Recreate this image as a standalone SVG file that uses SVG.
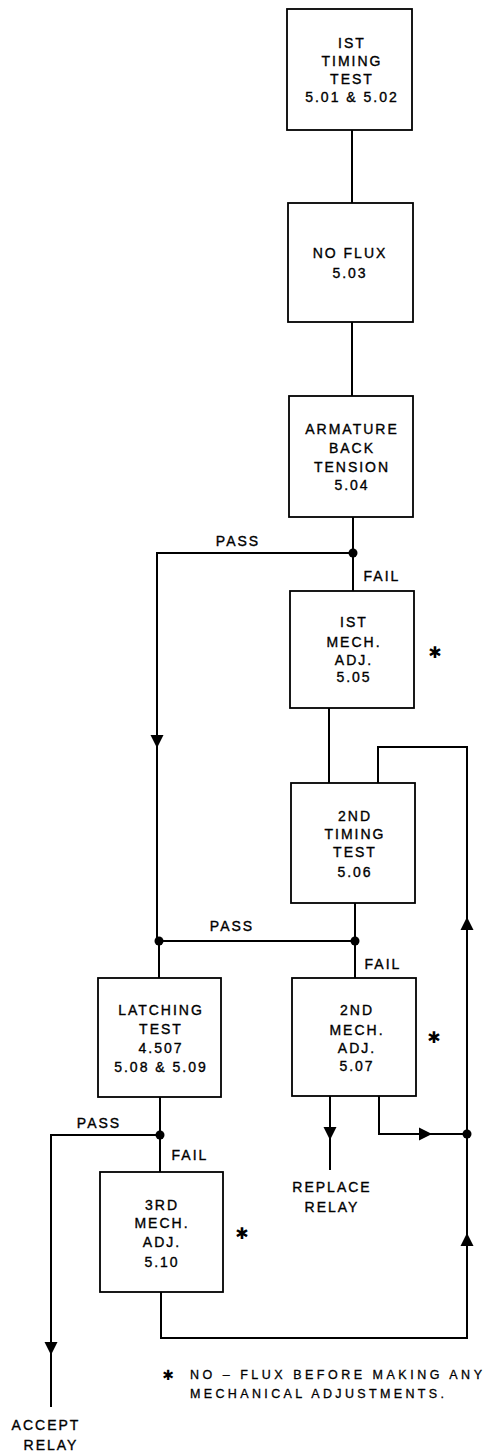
<svg xmlns="http://www.w3.org/2000/svg" xmlns:xlink="http://www.w3.org/1999/xlink" width="487" height="1451" viewBox="0 0 487 1451">
<style>
.box{fill:#fff;stroke:#000;stroke-width:1.8}
.ln{fill:none;stroke:#000;stroke-width:2}
.t{font-family:"Liberation Sans",Arial,sans-serif;font-size:14px;letter-spacing:2px;fill:#000;stroke:#000;stroke-width:0.35;text-anchor:middle}
.f{font-family:"Liberation Sans",Arial,sans-serif;font-size:12.5px;fill:#000;stroke:#000;stroke-width:0.3}
.ast{font-family:"DejaVu Sans",sans-serif;font-size:16px;fill:#000;text-anchor:middle}
.dot{fill:#000}
</style>
<defs>
<path id="ah" d="M-6.5,-13 L6.5,-13 L0,0 Z" fill="#000"/>
</defs>
<rect width="487" height="1451" fill="#fff"/>
<g id="connectors">
<path class="ln" d="M352,130 V203"/>
<path class="ln" d="M352,322 V396"/>
<path class="ln" d="M353,517 V591"/>
<path class="ln" d="M353,553 H157 V941"/>
<use xlink:href="#ah" transform="translate(157,748)"/>
<path class="ln" d="M329,708 V783"/>
<path class="ln" d="M378,783 V747 H467 V1338 H161 V1292"/>
<use xlink:href="#ah" transform="translate(467,917) rotate(180)"/>
<use xlink:href="#ah" transform="translate(467,1233) rotate(180)"/>
<path class="ln" d="M355,903 V978"/>
<path class="ln" d="M159,941 H355"/>
<path class="ln" d="M159,941 V978"/>
<path class="ln" d="M330,1096 V1170"/>
<use xlink:href="#ah" transform="translate(330,1140)"/>
<path class="ln" d="M379,1096 V1134 H467"/>
<use xlink:href="#ah" transform="translate(432,1134) rotate(-90)"/>
<path class="ln" d="M160,1097 V1172"/>
<path class="ln" d="M160,1135 H51 V1407"/>
<use xlink:href="#ah" transform="translate(51,1355)"/>
<circle class="dot" cx="353" cy="553" r="4.5"/>
<circle class="dot" cx="159" cy="941" r="4.5"/>
<circle class="dot" cx="355" cy="941" r="4.5"/>
<circle class="dot" cx="160" cy="1135" r="4.5"/>
<circle class="dot" cx="467" cy="1134" r="4.5"/>
<text class="t" x="238" y="546">PASS</text>
<text class="t" x="382" y="581">FAIL</text>
<text class="t" x="232" y="931">PASS</text>
<text class="t" x="383" y="969">FAIL</text>
<text class="t" x="99" y="1128">PASS</text>
<text class="t" x="190" y="1160">FAIL</text>
</g>
<g id="n1">
<rect class="box" x="287" y="9" width="125" height="121"/>
<text class="t" x="352" y="48">IST</text>
<text class="t" x="352" y="66">TIMING</text>
<text class="t" x="352" y="84">TEST</text>
<text class="t" x="352" y="102">5.01 &amp; 5.02</text>
</g>
<g id="n2">
<rect class="box" x="288" y="203" width="125" height="119"/>
<text class="t" x="350" y="258">NO FLUX</text>
<text class="t" x="350" y="278">5.03</text>
</g>
<g id="n3">
<rect class="box" x="289" y="396" width="124" height="121"/>
<text class="t" x="352" y="434">ARMATURE</text>
<text class="t" x="352" y="453">BACK</text>
<text class="t" x="352" y="472">TENSION</text>
<text class="t" x="352" y="490">5.04</text>
</g>
<g id="n4">
<rect class="box" x="290" y="591" width="124" height="117"/>
<text class="t" x="354" y="627">IST</text>
<text class="t" x="354" y="647">MECH.</text>
<text class="t" x="354" y="665">ADJ.</text>
<text class="t" x="354" y="682">5.05</text>
<text class="ast" x="435" y="658">✱</text>
</g>
<g id="n5">
<rect class="box" x="291" y="783" width="124" height="120"/>
<text class="t" x="355" y="821">2ND</text>
<text class="t" x="355" y="839">TIMING</text>
<text class="t" x="355" y="857">TEST</text>
<text class="t" x="355" y="877">5.06</text>
</g>
<g id="n6">
<rect class="box" x="98" y="978" width="123" height="119"/>
<text class="t" x="161" y="1015">LATCHING</text>
<text class="t" x="161" y="1034">TEST</text>
<text class="t" x="161" y="1053">4.507</text>
<text class="t" x="161" y="1072">5.08 &amp; 5.09</text>
</g>
<g id="n7">
<rect class="box" x="292" y="978" width="124" height="118"/>
<text class="t" x="357" y="1015">2ND</text>
<text class="t" x="357" y="1035">MECH.</text>
<text class="t" x="357" y="1053">ADJ.</text>
<text class="t" x="357" y="1071">5.07</text>
<text class="ast" x="434" y="1043">✱</text>
</g>
<g id="n8">
<rect class="box" x="100" y="1172" width="123" height="120"/>
<text class="t" x="162" y="1210">3RD</text>
<text class="t" x="162" y="1228">MECH.</text>
<text class="t" x="162" y="1247">ADJ.</text>
<text class="t" x="162" y="1267">5.10</text>
<text class="ast" x="242" y="1239">✱</text>
</g>
<g id="replace">
<text class="t" x="332" y="1192">REPLACE</text>
<text class="t" x="332" y="1212">RELAY</text>
</g>
<g id="accept">
<text class="t" x="46" y="1430">ACCEPT</text>
<text class="t" x="51" y="1450">RELAY</text>
</g>
<g id="note">
<text class="ast" x="168" y="1380" style="font-size:14px">✱</text>
<text class="f" x="190" y="1379" textLength="292" lengthAdjust="spacing">NO – FLUX BEFORE MAKING ANY</text>
<text class="f" x="190" y="1398" textLength="254" lengthAdjust="spacing">MECHANICAL ADJUSTMENTS.</text>
</g>
</svg>
